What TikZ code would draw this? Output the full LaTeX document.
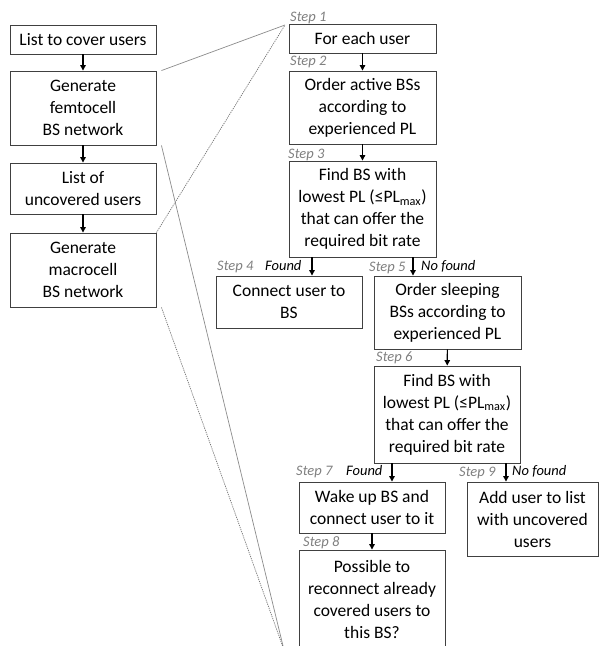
\documentclass[tikz,border=0pt]{standalone}
\usepackage{fontspec}
\setmainfont{Carlito}
\usetikzlibrary{arrows.meta}
\begin{document}
\begin{tikzpicture}[x=1pt,y=-1pt,
  box/.style={draw=black!75, line width=0.9pt, align=center, inner sep=0pt, font=\fontsize{17.5}{22}\selectfont},
  steplbl/.style={anchor=west, inner sep=0pt, text=black!50, font=\fontsize{14.5}{16}\selectfont\itshape},
  cond/.style={anchor=west, inner sep=0pt, font=\fontsize{14.5}{16}\selectfont\itshape},
  arr/.style={-{Triangle[length=5.5pt,width=5.5pt]}, line width=1.1pt},
  zoomline/.style={draw=black!45, line width=0.7pt},
  zoomdot/.style={draw=black!55, line width=0.7pt, dash pattern=on 1.2pt off 1pt}]
\fill[white] (0,0) rectangle (600,646);
\useasboundingbox (0,0) rectangle (600,646);

% left column
\node[box, minimum width=146pt, minimum height=29pt] (A) at (83,39.5) {List to cover users};
\node[box, minimum width=146pt, minimum height=74pt] (B) at (83,108) {Generate\\femtocell\\BS network};
\node[box, minimum width=146pt, minimum height=51pt] (C) at (83,188.5) {List of\\uncovered users};
\node[box, minimum width=146pt, minimum height=74pt] (D) at (83,270) {Generate\\macrocell\\BS network};

\draw[arr] (A) -- (B);
\draw[arr] (B) -- (C);
\draw[arr] (C) -- (D);

% zoom lines
\coordinate (zt) at (285,25);
\coordinate (zb) at (284,650);
\draw[zoomline] ([xshift=5pt]B.north east) -- (zt);
\draw[zoomline] ([xshift=5pt]B.south east) -- (zb);
\draw[zoomdot] (D.north east) -- (zt);
\draw[zoomdot] ([xshift=5pt]D.south east) -- (zb);

% right flowchart
\node[box, minimum width=147pt, minimum height=29pt] (S1) at (362.5,38.5) {For each user};
\node[box, minimum width=147pt, minimum height=73pt] (S2) at (362.5,107.5) {Order active BSs\\according to\\experienced PL};
\node[box, minimum width=147pt, minimum height=96pt] (S3) at (362.5,209) {Find BS with\\lowest PL (≤PL\textsubscript{max})\\that can offer the\\required bit rate};
\node[box, minimum width=146pt, minimum height=52pt] (S4) at (289,302) {Connect user to\\BS};
\node[box, minimum width=147pt, minimum height=73pt] (S5) at (447.5,312.5) {Order sleeping\\BSs according to\\experienced PL};
\node[box, minimum width=146pt, minimum height=97pt] (S6) at (447,414.5) {Find BS with\\lowest PL (≤PL\textsubscript{max})\\that can offer the\\required bit rate};
\node[box, minimum width=146pt, minimum height=51pt] (S7) at (372,507.5) {Wake up BS and\\connect user to it};
\node[box, minimum width=131pt, minimum height=74pt] (S9) at (532.5,519) {Add user to list\\with uncovered\\users};
\node[box, minimum width=146pt, minimum height=99pt] (S8) at (372,599.5) {Possible to\\reconnect already\\covered users to\\this BS?};

\draw[arr] (S1) -- (S2);
\draw[arr] (S2) -- (S3);
\draw[arr] ([xshift=-50.5pt]S3.south) -- ([xshift=-50.5pt]S3.south |- S4.north);
\draw[arr] ([xshift=50.5pt]S3.south) -- ([xshift=50.5pt]S3.south |- S5.north);
\draw[arr] (S5) -- (S6);
\draw[arr] ([xshift=-55pt]S6.south) -- ([xshift=-55pt]S6.south |- S7.north);
\draw[arr] ([xshift=59pt]S6.south) -- ([xshift=59pt]S6.south |- S9.north);
\draw[arr] (S7) -- (S8);

% step labels
\node[steplbl] (L1) at (290,18) {Step 1};
\node[steplbl] (L2) at (290,62) {Step 2};
\node[steplbl] (L3) at (288,155) {Step 3};
\node[steplbl] (L4) at (217,267) {Step 4};
\node[cond] (F4) at (265,266) {Found};
\node[steplbl] (L5) at (369,268) {Step 5};
\node[cond] (N5) at (421,266) {No found};
\node[steplbl] (L6) at (376,358) {Step 6};
\node[steplbl] (L7) at (296,472) {Step 7};
\node[cond] (F7) at (346,471) {Found};
\node[steplbl] (L9) at (459,473) {Step 9};
\node[cond] (N9) at (512,471) {No found};
\node[steplbl] (L8) at (303,543) {Step 8};
\end{tikzpicture}
\end{document}
